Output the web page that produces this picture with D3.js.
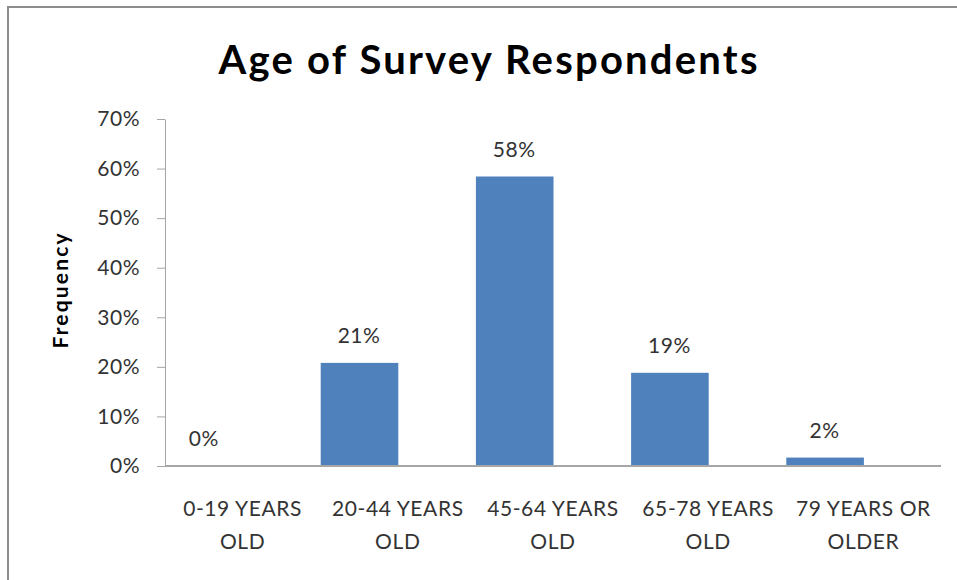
<!DOCTYPE html>
<html>
<head>
<meta charset="utf-8">
<script src="https://cdn.jsdelivr.net/npm/d3@7"></script>
<style>
body{margin:0;background:#fff;}
text{font-family:Lato,"Open Sans",sans-serif;}
</style>
</head>
<body>
<div id="chart"></div>
<script>
// data
let categories=[["0-19 YEARS","OLD"],["20-44 YEARS","OLD"],["45-64 YEARS","OLD"],["65-78 YEARS","OLD"],["79 YEARS OR","OLDER"]];
let values=[0,20.8,58.4,18.8,1.7];
let yTicks=[0,10,20,30,40,50,60,70];

let width=957, height=580;
let plotLeft=165, plotRight=941, plotTop=119, plotBottom=466;

let svg=d3.select("#chart").append("svg").attr("width",width).attr("height",height);

// outer frame
svg.append("rect").attr("x",8).attr("y",7).attr("width",width+10).attr("height",height+10)
	.attr("fill","none").attr("stroke","#8c8c8c").attr("stroke-width",2);

svg.append("text").attr("x",488).attr("y",74).attr("text-anchor","middle")
	.style("font-size","40px").style("font-weight","bold").attr("fill","#000")
	.attr("textLength",539).attr("lengthAdjust","spacing")
	.text("Age of Survey Respondents");

let x=d3.scaleBand().domain(d3.range(categories.length)).range([plotLeft,plotRight]).padding(0);
let y=d3.scaleLinear().domain([0,70]).range([plotBottom,plotTop]);

// y axis
let yAxis=svg.append("g").attr("transform","translate("+plotLeft+",0)")
	.call(d3.axisLeft(y).tickValues(yTicks).tickFormat(d=>d+"%").tickSize(8).tickPadding(17).tickSizeOuter(0));
yAxis.select(".domain").attr("stroke","#a6a6a6");
yAxis.selectAll(".tick line").attr("stroke","#a6a6a6");
yAxis.selectAll(".tick text").style("font-size","21px").style("letter-spacing","0.5px").attr("fill","#333").attr("font-family","Lato,sans-serif");

// bars: left half of each slot
svg.selectAll("rect.bar").data(values).join("rect").attr("class","bar")
	.attr("x",(d,i)=>x(i)+0.5)
	.attr("y",d=>y(d))
	.attr("width",x.bandwidth()/2)
	.attr("height",d=>plotBottom-y(d))
	.attr("fill","#4f81bd");

// x axis line
svg.append("line").attr("x1",plotLeft).attr("x2",plotRight).attr("y1",plotBottom).attr("y2",plotBottom)
	.attr("stroke","#a6a6a6").attr("stroke-width",2);

// value labels
svg.selectAll("text.val").data(values).join("text").attr("class","val")
	.attr("x",(d,i)=>x(i)+x.bandwidth()/4)
	.attr("y",d=>y(d)-20)
	.attr("text-anchor","middle").style("font-size","21px").style("letter-spacing","0.5px").attr("fill","#333")
	.text(d=>Math.round(d)+"%");

// category labels
let cat=svg.selectAll("text.cat").data(categories).join("text").attr("class","cat")
	.attr("text-anchor","middle").style("font-size","21px").style("letter-spacing","0.6px").attr("fill","#333");
cat.selectAll("tspan").data((d,i)=>d.map(t=>({t:t,i:i}))).join("tspan")
	.attr("x",d=>x(d.i)+x.bandwidth()/2)
	.attr("y",(d,j)=>516+j*33)
	.text(d=>d.t);

svg.append("text").attr("transform","translate(68,291) rotate(-90)")
	.attr("text-anchor","middle").style("font-size","21px").style("font-weight","bold").attr("fill","#000")
	.attr("textLength",115).attr("lengthAdjust","spacing")
	.text("Frequency");
</script>
</body>
</html>
